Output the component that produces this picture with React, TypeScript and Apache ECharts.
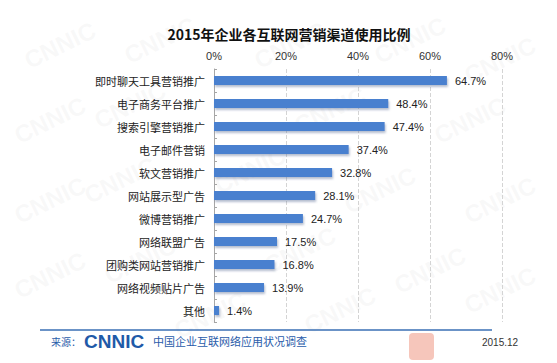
import React, { useEffect, useRef } from "react";
import * as echarts from "echarts";

const categories = [
  "即时聊天工具营销推广",
  "电子商务平台推广",
  "搜索引擎营销推广",
  "电子邮件营销",
  "软文营销推广",
  "网站展示型广告",
  "微博营销推广",
  "网络联盟广告",
  "团购类网站营销推广",
  "网络视频贴片广告",
  "其他",
];
const values = [64.7, 48.4, 47.4, 37.4, 32.8, 28.1, 24.7, 17.5, 16.8, 13.9, 1.4];
const title = "2015年企业各互联网营销渠道使用比例";
const sourceLabel = "来源：";
const logoText = "CNNIC";
const surveyText = "中国企业互联网络应用状况调查";
const dateText = "2015.12";
const watermarkText = "CNNIC";

export default function App() {
  const ref = useRef<HTMLDivElement>(null);
  useEffect(() => {
    if (!ref.current) return;
    const chart = echarts.init(ref.current, null, { renderer: "svg" });
    const font = "'Noto Sans CJK SC', sans-serif";
    const latin = "Liberation Sans, Arial, sans-serif";
    const marks: any[] = [];
    const spots = [
      [60, 45], [160, 40], [290, 45], [410, 40], [500, 60],
      [50, 120], [130, 105], [330, 110], [470, 120],
      [50, 200], [120, 180], [250, 170], [380, 190], [500, 200],
      [50, 275], [140, 260], [300, 250], [430, 270], [500, 290],
      [210, 315], [340, 310],
    ];
    spots.forEach(([x, y]) => {
      marks.push({
        type: "text",
        x,
        y,
        rotation: Math.PI / 7,
        z: -10,
        silent: true,
        style: {
          text: watermarkText,
          fontSize: 24,
          fontWeight: "bold",
          fill: "rgba(200,200,200,0.12)",
          fontFamily: latin,
          align: "center",
          verticalAlign: "middle",
        },
      });
    });
    chart.setOption({
      animation: false,
      backgroundColor: "#ffffff",
      title: {
        text: title,
        left: 284,
        top: 22,
        textAlign: "center",
        textStyle: { fontSize: 14, fontWeight: "bold", color: "#111", fontFamily: font },
      },
      grid: { left: 214, right: 55, top: 69, bottom: 41 },
      xAxis: {
        type: "value",
        position: "top",
        min: 0,
        max: 80,
        interval: 20,
        axisLabel: {
          formatter: "{value}%",
          color: "#333",
          fontSize: 11,
          fontFamily: latin,
          margin: 8,
        },
        axisLine: { show: false },
        axisTick: { show: false },
        splitLine: { show: true, lineStyle: { type: "dashed", color: "#d4d4d4" } },
      },
      yAxis: {
        type: "category",
        data: categories,
        inverse: true,
        axisLine: { show: true, lineStyle: { color: "#a6a6a6" } },
        axisTick: { show: true, inside: true, length: 3, lineStyle: { color: "#a6a6a6" } },
        axisLabel: { color: "#222", fontSize: 11, fontFamily: font, margin: 9 },
      },
      series: [
        {
          type: "bar",
          data: values,
          barWidth: 9,
          itemStyle: {
            color: "#4a80cf",
            shadowColor: "rgba(90,110,150,0.45)",
            shadowOffsetX: 1,
            shadowOffsetY: 2,
            shadowBlur: 2,
          },
          label: {
            show: true,
            position: "right",
            distance: 8,
            formatter: "{c}%",
            color: "#222",
            fontSize: 11,
            fontFamily: latin,
          },
        },
      ],
      graphic: [
        ...marks,
        {
          type: "line",
          shape: { x1: 40, y1: 330, x2: 492, y2: 330 },
          style: { stroke: "#3a6fb5", lineWidth: 1.5 },
        },
        {
          type: "text",
          x: 51,
          y: 341,
          style: { text: sourceLabel, fontSize: 10, fill: "#2a5caa", fontFamily: font, verticalAlign: "middle" },
        },
        {
          type: "text",
          x: 84,
          y: 341,
          style: {
            text: logoText,
            fontSize: 19,
            fontWeight: "bold",
            fill: "#1f5aa8",
            fontFamily: latin,
            verticalAlign: "middle",
          },
        },
        {
          type: "text",
          x: 153,
          y: 341,
          style: { text: surveyText, fontSize: 11, fill: "#2a5caa", fontFamily: font, verticalAlign: "middle" },
        },
        {
          type: "rect",
          shape: { x: 409, y: 333, width: 25, height: 27, r: 4 },
          style: { fill: "#f6c6bb" },
          z: 5,
        },
        {
          type: "text",
          x: 482,
          y: 342,
          z: 6,
          style: {
            text: dateText,
            fontSize: 10,
            fill: "#333",
            fontFamily: latin,
            verticalAlign: "middle",
          },
        },
      ],
    });
    return () => chart.dispose();
  }, []);
  return <div ref={ref} style={{ width: 557, height: 363, position: "absolute", left: 0, top: 0 }} />;
}
